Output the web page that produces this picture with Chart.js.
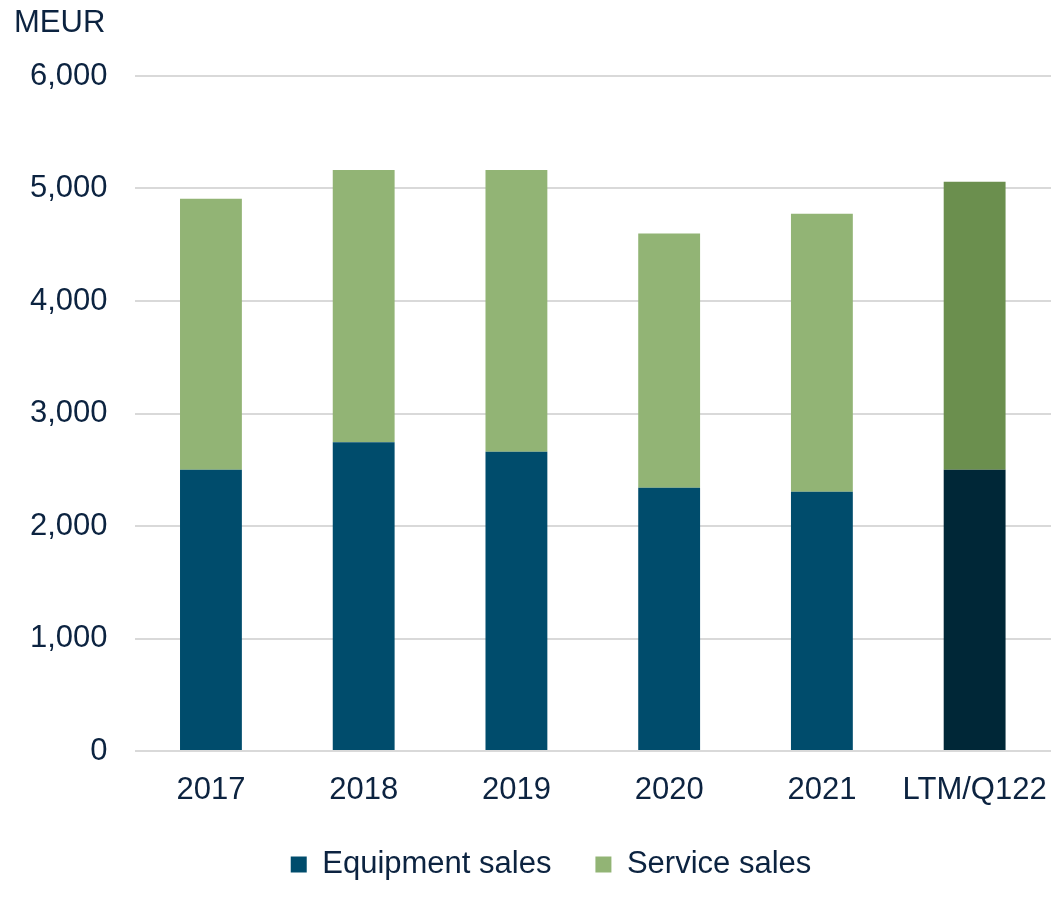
<!DOCTYPE html>
<html>
<head>
<meta charset="utf-8">
<script src="https://cdn.jsdelivr.net/npm/chart.js@4"></script>
<style>
    body { margin: 0; background: #fff; }
    #wrap { position: relative; width: 1056px; height: 916px; }
    #unit { position: absolute; left: 14px; top: 4px; font: 31px "Liberation Sans", Arial, sans-serif; color: #0c2340; }
</style>
</head>
<body>
<div id="wrap">
    <div id="unit">MEUR</div>
    <canvas id="salesChart" width="1056" height="916"></canvas>
</div>
<script>
// Sales by year, MEUR
const categories = ['2017', '2018', '2019', '2020', '2021', 'LTM/Q122'];
const equipmentSales = [2500, 2745, 2660, 2340, 2305, 2500];
const serviceSales = [2410, 2420, 2505, 2260, 2470, 2560];
const yTicks = [0, 1000, 2000, 3000, 4000, 5000, 6000];

// last bar (LTM) is drawn in darker shades
const equipColors = categories.map((c, i) => i === categories.length - 1 ? '#002737' : '#004c6c');
const serviceColors = categories.map((c, i) => i === categories.length - 1 ? '#6b8f4e' : '#92b475');

const textColor = '#0c2340';
const font = { family: '"Liberation Sans", Arial, sans-serif', size: 31 };

// nudge the legend a bit to the right, like the original
const legendShift = {
    id: 'legendShift',
    afterLayout(chart) {
        chart.legend.left += 24;
        chart.legend.right += 24;
    }
};

new Chart(document.getElementById('salesChart').getContext('2d'), {
    type: 'bar',
    data: {
        labels: categories,
        datasets: [
            {
                label: 'Equipment sales',
                data: equipmentSales,
                backgroundColor: equipColors,
                barPercentage: 0.405,
                categoryPercentage: 1
            },
            {
                label: 'Service sales',
                data: serviceSales,
                backgroundColor: serviceColors,
                barPercentage: 0.405,
                categoryPercentage: 1
            }
        ]
    },
    options: {
        responsive: false,
        animation: false,
        layout: { padding: { top: 76, right: 5, bottom: 26, left: 3 } },
        plugins: {
            tooltip: { enabled: false },
            legend: {
                position: 'bottom',
                labels: {
                    color: textColor,
                    font: font,
                    boxWidth: 16,
                    boxHeight: 16,
                    padding: 44,
                    generateLabels: (chart) => chart.data.datasets.map((ds, i) => ({
                        text: ds.label,
                        fillStyle: i === 0 ? '#004c6c' : '#92b475',
                        strokeStyle: 'transparent',
                        lineWidth: 0,
                        fontColor: textColor,
                        datasetIndex: i
                    }))
                }
            }
        },
        scales: {
            x: {
                stacked: true,
                grid: { display: false },
                border: { display: false },
                ticks: { color: textColor, font: font, padding: 13, maxRotation: 0 },
                afterFit: (s) => { s.paddingLeft = 0; s.paddingRight = 0; s.height = 54; }
            },
            y: {
                stacked: true,
                min: 0,
                max: 6000,
                afterBuildTicks: (axis) => { axis.ticks = yTicks.map(v => ({ value: v })); },
                grid: { color: '#d9d9d9', lineWidth: 2, drawTicks: false },
                border: { display: false },
                ticks: {
                    color: textColor,
                    font: font,
                    padding: 27,
                    callback: (v) => v.toLocaleString('en-US')
                }
            }
        }
    },
    plugins: [legendShift]
});
</script>
</body>
</html>
